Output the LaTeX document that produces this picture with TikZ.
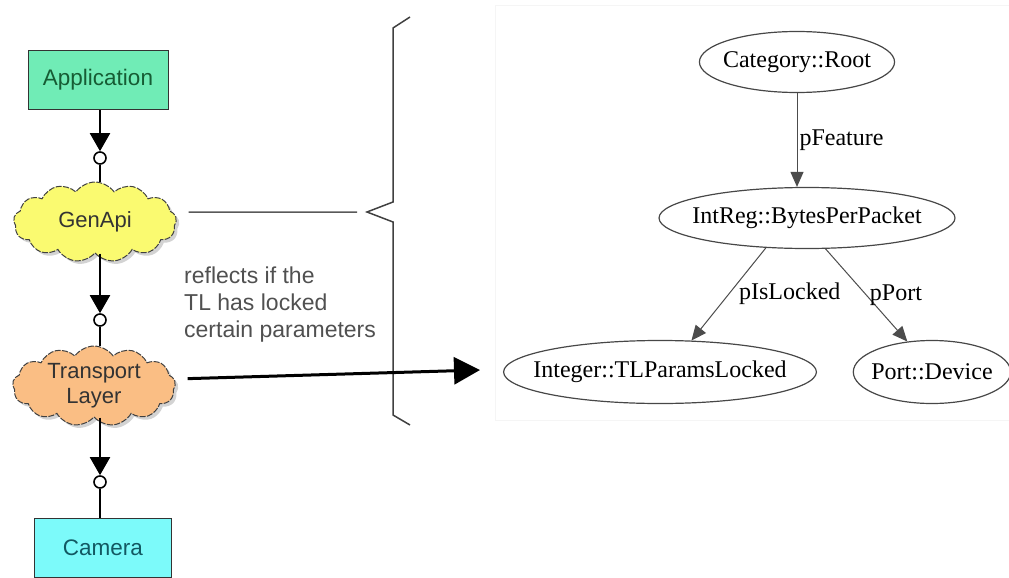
\documentclass[tikz,border=0pt]{standalone}
\usepackage{fontspec}
\setmainfont{Liberation Sans}
\newfontfamily\graphfont{Liberation Serif}
\usetikzlibrary{arrows.meta,shapes.symbols,shapes.geometric,shadows}

\definecolor{appgreen}{RGB}{112,236,182}
\definecolor{appink}{RGB}{22,92,52}
\definecolor{apiyellow}{RGB}{250,250,112}
\definecolor{tlorange}{RGB}{250,190,132}
\definecolor{camcyan}{RGB}{124,250,250}
\definecolor{camink}{RGB}{18,88,98}
\definecolor{noteink}{RGB}{80,80,80}

\tikzset{
  layerbox/.style={draw=black!80, line width=1pt, minimum width=140pt, minimum height=59pt,
    inner sep=0pt, font=\fontsize{22.5}{26}\selectfont},
  layercloud/.style={cloud, cloud puffs=13, cloud puff arc=110, cloud ignores aspect,
    draw=black!75, line width=1pt, dash pattern=on 6pt off 1.5pt,
    minimum width=163pt, minimum height=80pt, inner sep=0pt, align=center,
    font=\fontsize{22}{25}\selectfont,
    drop shadow={shadow xshift=3pt, shadow yshift=-3pt, opacity=.35}},
  joint/.style={circle, draw, line width=1.6pt, fill=white, minimum size=12pt, inner sep=0pt},
  link/.style={line width=2pt},
  feature/.style={ellipse, draw=black!72, line width=1.2pt, inner ysep=0pt, minimum height=61pt,
    font=\graphfont\fontsize{24}{28}\selectfont},
  featedge/.style={draw=black!70, line width=1pt, -{Triangle[width=13pt,length=15pt]}},
  edgelabel/.style={font=\graphfont\fontsize{24}{28}\selectfont, inner sep=2pt}
}

\begin{document}
\begin{tikzpicture}[x=1pt,y=-1pt]
  \useasboundingbox (0,0) rectangle (1009,578);

  % graph area frame
  \draw[black!4, line width=1pt] (495,6) rectangle (1012,420);

  % layer stack
  \node[layerbox, fill=appgreen, text=appink] (app) at (98,80) {Application};
  \node[joint] (j1) at (100,158) {};
  \node[layercloud, fill=apiyellow, text=black!80] (gen) at (95,222) {GenApi};
  \node[joint] (j2) at (100,320) {};
  \node[layercloud, fill=tlorange, text=black!80] (tl) at (94,386) {Transport\\Layer};
  \node[joint] (j3) at (100,482) {};
  \node[layerbox, fill=camcyan, text=camink, minimum width=137pt] (cam) at (103,547.5) {Camera};

  \begin{scope}[link]
    \draw[-{Triangle[width=20pt,length=18pt]}] (app.south -| j1) -- (j1.north);
    \draw (j1.south) -- (j1.south |- gen.north);
    \draw[-{Triangle[width=20pt,length=18pt]}] (gen.south -| j2) -- (j2.north);
    \draw (j2.south) -- (j2.south |- tl.north);
    \draw[-{Triangle[width=20pt,length=18pt]}] (tl.south -| j3) -- (j3.north);
    \draw (j3.south) -- (j3.south |- cam.north);
  \end{scope}

  % brace
  \coordinate (bracetip) at (367,212);
  \coordinate (tltip) at (480,370);
  \draw[black!75, line width=1.5pt] (410,17) -- (393,28) -- (393,202) -- (bracetip)
    -- (393,222) -- (393,415) -- (410,425);
  \draw[black!65, line width=1.5pt, shorten <=12pt, shorten >=10pt]
    ([yshift=10pt]gen.east) -- (bracetip);

  \node[anchor=north west, inner sep=0pt, align=left, text=noteink,
    font=\fontsize{23}{27}\selectfont] (note) at (184,267)
    {reflects if the\\TL has locked\\certain parameters};

  \draw[line width=3pt, shorten <=12pt, -{Triangle[width=27pt,length=26pt]}]
    ([yshift=7pt]tl.east) -- (tltip);

  % feature graph
  \node[feature, inner xsep=-5pt] (root) at (797,62) {Category::Root};
  \node[feature, inner xsep=-10pt] (bpp) at (807,218) {IntReg::BytesPerPacket};
  \node[feature, inner xsep=-16pt, minimum height=63pt] (tlp) at (660,372) {Integer::TLParamsLocked};
  \node[feature, inner xsep=-5pt, minimum height=63pt] (port) at (932,372) {Port::Device};

  \draw[featedge] (root.south) -- (root.south |- bpp.north)
    node[midway, right, edgelabel] {pFeature};
  \draw[featedge] (bpp.216) -- (tlp.45)
    node[midway, right=8pt, edgelabel] {pIsLocked};
  \draw[featedge] (bpp.301) -- (port.129)
    node[midway, right=1pt, edgelabel] {pPort};
\end{tikzpicture}
\end{document}
